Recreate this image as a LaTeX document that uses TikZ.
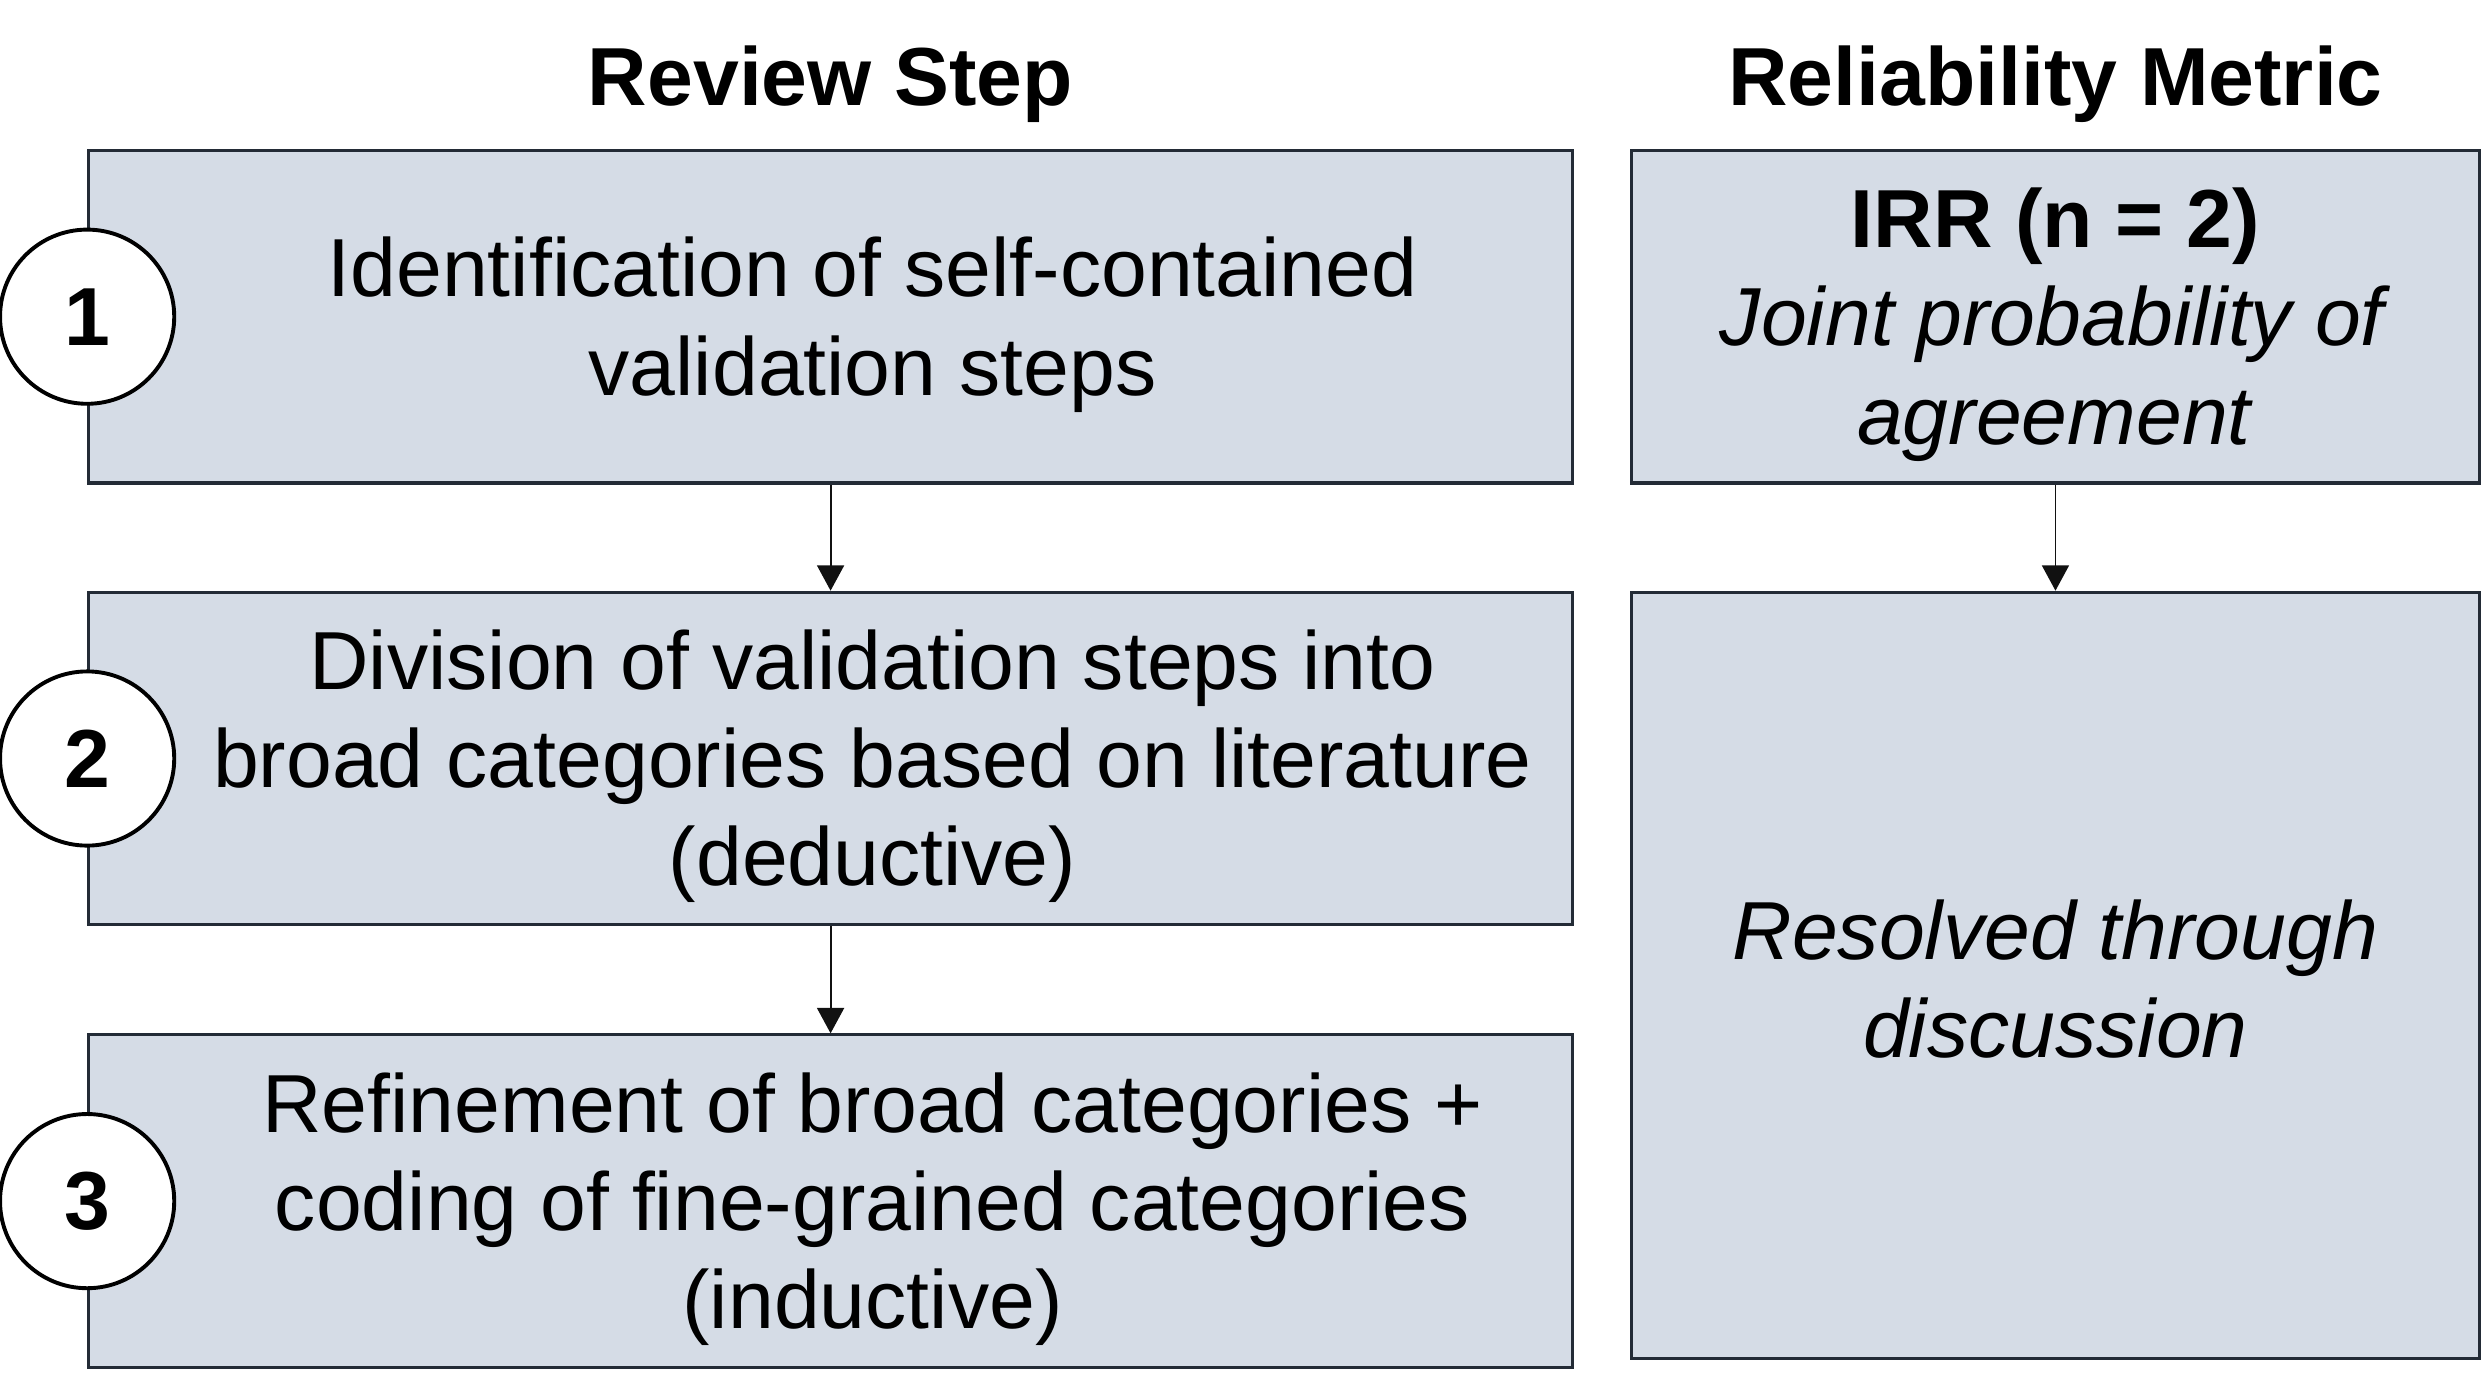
\documentclass[tikz,border=0pt]{standalone}
\usepackage{fontspec}
\setmainfont{Liberation Sans}
\usetikzlibrary{positioning, arrows.meta}
\definecolor{box-fill}{RGB}{213,220,230}
\definecolor{box-line}{RGB}{35,43,54}
\definecolor{flow-line}{RGB}{17,17,17}
\tikzset{
    body/.style = {font=\fontsize{29.6}{35.3}\selectfont, align=center, inner sep=0pt, yshift=-0.1cm},
    title/.style = {body, font=\fontsize{29.6}{35.3}\selectfont\bfseries},
    box/.style = {draw=box-line, fill=box-fill, line width=1.1pt, inner sep=0pt},
    step-box/.style = {box, minimum width=18.74cm, minimum height=4.2cm},
    metric-box/.style = {box, minimum width=10.72cm},
    num/.style = {circle, draw=black, fill=white, line width=1.4pt, minimum size=2.2cm,
                  inner sep=0pt, font=\fontsize{29.6}{35.3}\selectfont\bfseries},
    flow/.style = {draw=flow-line, line width=0.7pt, -{Triangle[width=0.34cm,length=0.32cm]}},
}

\begin{document}
\begin{tikzpicture}

\useasboundingbox (0,0) rectangle (31.36,-17.68);

% column heads
\node[title] (head-step) at (10.49,-0.96) {Review Step};
\node[title] (head-metric) at (25.96,-0.96) {Reliability Metric};

% review steps
\node[step-box, label={[body, xshift=0.53cm]center:{Identification of self-contained\\validation steps}}] (s1) at (10.49,-4.0) {};
\node[step-box, label={[body, xshift=0.53cm]center:{Division of validation steps into\\broad categories based on literature\\(deductive)}}] (s2) at (10.49,-9.58) {};
\node[step-box, label={[body, xshift=0.53cm]center:{Refinement of broad categories +\\coding of fine-grained categories\\(inductive)}}] (s3) at (10.49,-15.17) {};

\node[num] (n1) at (s1.west) {1};
\node[num] (n2) at (s2.west) {2};
\node[num] (n3) at (s3.west) {3};

% reliability
\node[metric-box, minimum height=4.2cm, label={[body]center:{\textbf{IRR (n = 2)}\\\textit{Joint probability of}\\\textit{agreement}}}] (irr) at (25.96,-4.0) {};
\node[metric-box, minimum height=9.68cm, label={[body, yshift=0.05cm]center:{\textit{Resolved through}\\\textit{discussion}}}] (resolved) at (25.96,-12.32) {};

\draw[flow] (s1) -- (s2);
\draw[flow] (s2) -- (s3);
\draw[flow] (irr) -- (resolved);

\end{tikzpicture}
\end{document}
